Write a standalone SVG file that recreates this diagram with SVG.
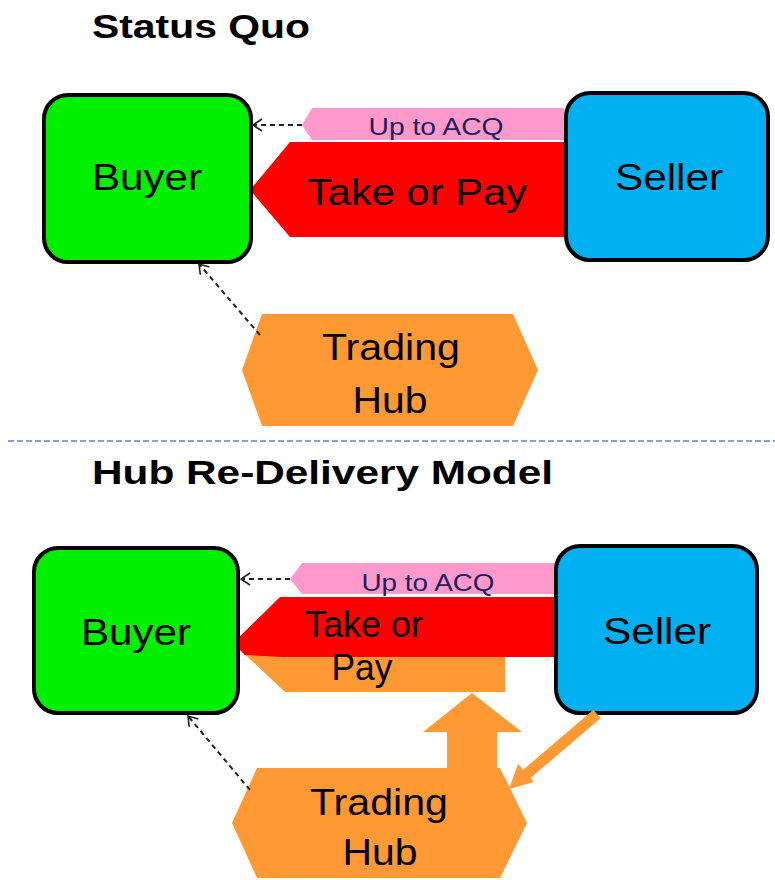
<svg xmlns="http://www.w3.org/2000/svg" width="775" height="880" viewBox="0 0 775 880">
<style>
  text { font-family: "Liberation Sans", Arial, sans-serif; fill: #000; }
  .title { font-weight: bold; font-size: 34px; }
  .box { stroke: #000; stroke-width: 4; }
  .buyer { fill: #00f000; }
  .seller { fill: #00b0f0; }
  .lbl { font-size: 37px; text-anchor: middle; }
  .hub { fill: #ff9933; }
  .pink { fill: #ff99cc; }
  .red { fill: #ff0000; }
  .acq { font-size: 24px; text-anchor: middle; fill: #1c1f5e; }
  .dash { stroke: #222; stroke-width: 2; stroke-dasharray: 5 4; fill: none; marker-end: url(#open); }
</style>
<defs>
  <marker id="open" markerUnits="userSpaceOnUse" markerWidth="20" markerHeight="20" refX="0" refY="0" orient="auto" overflow="visible">
    <path d="M-9,-6 L0,0 L-9,6" fill="none" stroke="#222" stroke-width="1.6"/>
  </marker>
</defs>
<rect width="775" height="880" fill="#fff"/>

<text class="title" x="92" y="38" textLength="218" lengthAdjust="spacingAndGlyphs">Status Quo</text>
<line x1="8" y1="441" x2="775" y2="441" stroke="#5b87c5" stroke-width="1.5" stroke-dasharray="6 3"/>
<text class="title" x="92" y="484" font-size="37" textLength="461" lengthAdjust="spacingAndGlyphs">Hub Re-Delivery Model</text>

<!-- Status Quo -->
<g id="flow-acq-top">
  <polygon class="pink" points="302,125 312,108 564,108 564,140 312,140"/>
  <text class="acq" x="436" y="135" textLength="135" lengthAdjust="spacingAndGlyphs">Up to ACQ</text>
</g>
<g id="flow-top-top">
  <polygon class="red" points="250,190 290,142 564,142 564,237 290,237"/>
  <text class="lbl" x="417" y="205" font-size="38" textLength="220" lengthAdjust="spacingAndGlyphs">Take or Pay</text>
</g>
<g id="buyer-top">
  <rect class="box buyer" x="44" y="95" width="207" height="167" rx="24"/>
  <text class="lbl" x="147" y="190" textLength="110" lengthAdjust="spacingAndGlyphs">Buyer</text>
</g>
<g id="seller-top">
  <rect class="box seller" x="566" y="93" width="202" height="167" rx="24"/>
  <text class="lbl" x="669" y="190" textLength="108" lengthAdjust="spacingAndGlyphs">Seller</text>
</g>
<g id="hub-top">
  <polygon class="hub" points="262,314 513,314 538,370 513,426 262,426 242,370"/>
  <text class="lbl" x="391" y="360" font-size="39" textLength="138" lengthAdjust="spacingAndGlyphs">Trading</text>
  <text class="lbl" x="390" y="413" font-size="39" textLength="75" lengthAdjust="spacingAndGlyphs">Hub</text>
</g>

<!-- Hub Re-Delivery Model -->
<g id="flow-acq-bottom">
  <polygon class="pink" points="290,579 302,563 556,563 556,594 302,594"/>
  <text class="acq" x="428" y="591" textLength="133" lengthAdjust="spacingAndGlyphs">Up to ACQ</text>
</g>
<g id="flow-pay-hub">
  <polygon class="hub" points="233,643 245,655 505,655 505,692 285,692"/>
</g>
<g id="flow-top-bottom">
  <polygon class="red" points="233,643 280,597 556,597 556,657 282,657 245,655"/>
  <text class="lbl" x="364" y="637" font-size="37" textLength="118" lengthAdjust="spacingAndGlyphs">Take or</text>
  <text class="lbl" x="362" y="680" font-size="37" textLength="61" lengthAdjust="spacingAndGlyphs">Pay</text>
</g>
<g id="buyer-bottom">
  <rect class="box buyer" x="34" y="548" width="204" height="165" rx="24"/>
  <text class="lbl" x="136" y="645" textLength="110" lengthAdjust="spacingAndGlyphs">Buyer</text>
</g>
<g id="seller-bottom">
  <rect class="box seller" x="556" y="546" width="201" height="167" rx="24"/>
  <text class="lbl" x="657" y="644" textLength="108" lengthAdjust="spacingAndGlyphs">Seller</text>
</g>
<g id="hub-bottom">
  <polygon class="hub" points="257,768 500,768 527,823 500,878 257,878 232,823"/>
  <text class="lbl" x="379" y="815" font-size="39" textLength="138" lengthAdjust="spacingAndGlyphs">Trading</text>
  <text class="lbl" x="380" y="865" font-size="39" textLength="75" lengthAdjust="spacingAndGlyphs">Hub</text>
</g>

<g id="connectors">
  <line class="dash" x1="302" y1="125" x2="253" y2="125"/>
  <line class="dash" x1="260" y1="335" x2="199" y2="264"/>
  <line class="dash" x1="290" y1="579" x2="241" y2="579"/>
  <line class="dash" x1="250" y1="790" x2="188" y2="716"/>
  <polygon class="hub" points="472,693 522,732 497,732 497,772 447,772 447,732 423,732"/>
  <line x1="597" y1="714" x2="522" y2="778" stroke="#ff9933" stroke-width="11"/>
  <polygon class="hub" points="509,789 518,764 534,782"/>
</g>
</svg>
